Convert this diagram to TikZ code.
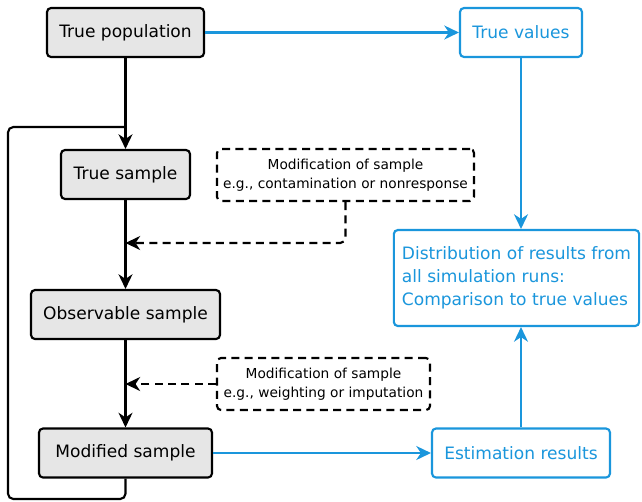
\documentclass[tikz,border=0pt]{standalone}
\usepackage{fontspec}
\setmainfont{DejaVu Sans}
\usepackage{xcolor}
\usepackage{tikz}
\usetikzlibrary{arrows.meta,positioning}
\definecolor{simblue}{HTML}{1A96DC}
\definecolor{boxgray}{HTML}{E6E6E6}

\begin{document}
\begin{tikzpicture}[x=0.75pt, y=-0.75pt, >={Stealth[length=11pt,width=10.5pt,inset=3.5pt]}, line width=1.6pt,
  stepbox/.style={draw, rounded corners=3pt, fill=boxgray, font=\fontsize{12.8}{15}\selectfont, minimum height=36.75pt, inner sep=0pt},
  resbox/.style={draw=simblue, text=simblue, rounded corners=3pt, fill=white, font=\fontsize{12.8}{17.25}\selectfont, minimum height=36.75pt, inner sep=0pt},
  modbox/.style={draw, dash pattern=on 6pt off 4pt, rounded corners=3pt, align=center, font=\fontsize{10.3}{14.5}\selectfont, minimum height=39pt, inner sep=0pt},
  flow/.style={->, black},
  modflow/.style={->, black, dash pattern=on 6pt off 4pt},
  resflow/.style={->, simblue}]
\useasboundingbox (0,0) rectangle (642,501);
% simulation steps
\node[stepbox, minimum width=117.75pt] (pop) at (125.5,32.5) {True population};
\node[stepbox, minimum width=96.75pt] (tsample) at (125.5,174.5) {True sample};
\node[stepbox, minimum width=141.75pt] (obs) at (125.5,314.5) {Observable sample};
\node[stepbox, minimum width=129.75pt] (modified) at (125.5,453) {Modified sample};
% modifications
\node[modbox, minimum width=192.75pt] (mod1) at (345.5,175) {Modification of sample\\e.g., contamination or nonresponse};
\node[modbox, minimum width=159.75pt] (mod2) at (323.5,384) {Modification of sample\\e.g., weighting or imputation};
% results
\node[resbox, minimum width=91.5pt] (truevals) at (521,32.5) {True values};
\node[resbox, minimum width=133.5pt] (estim) at (521,453) {Estimation results};
\node[resbox, align=left, minimum width=184pt, minimum height=72pt] (dist) at (516.5,278) {Distribution of results from\\all simulation runs:\\Comparison to true values};
\coordinate (loopjoin) at (125.5,127);
\coordinate (join1) at (125.5,243);
% connectors
\draw[flow] (pop) -- (tsample);
\draw[flow] (tsample) -- (obs);
\draw[flow] (obs) -- (modified);
\draw[rounded corners=4pt] (modified.south) |- (8,499) |- (loopjoin);
\draw[modflow, rounded corners=4pt] (mod1.south) |- (join1);
\draw[modflow] (mod2.west) -- (mod2.west -| modified.north);
\draw[resflow] (pop) -- (truevals);
\draw[resflow] (modified) -- (estim);
\draw[resflow] (truevals.south) -- (truevals.south |- dist.north);
\draw[resflow] (estim.north) -- (estim.north |- dist.south);
\end{tikzpicture}
\end{document}
